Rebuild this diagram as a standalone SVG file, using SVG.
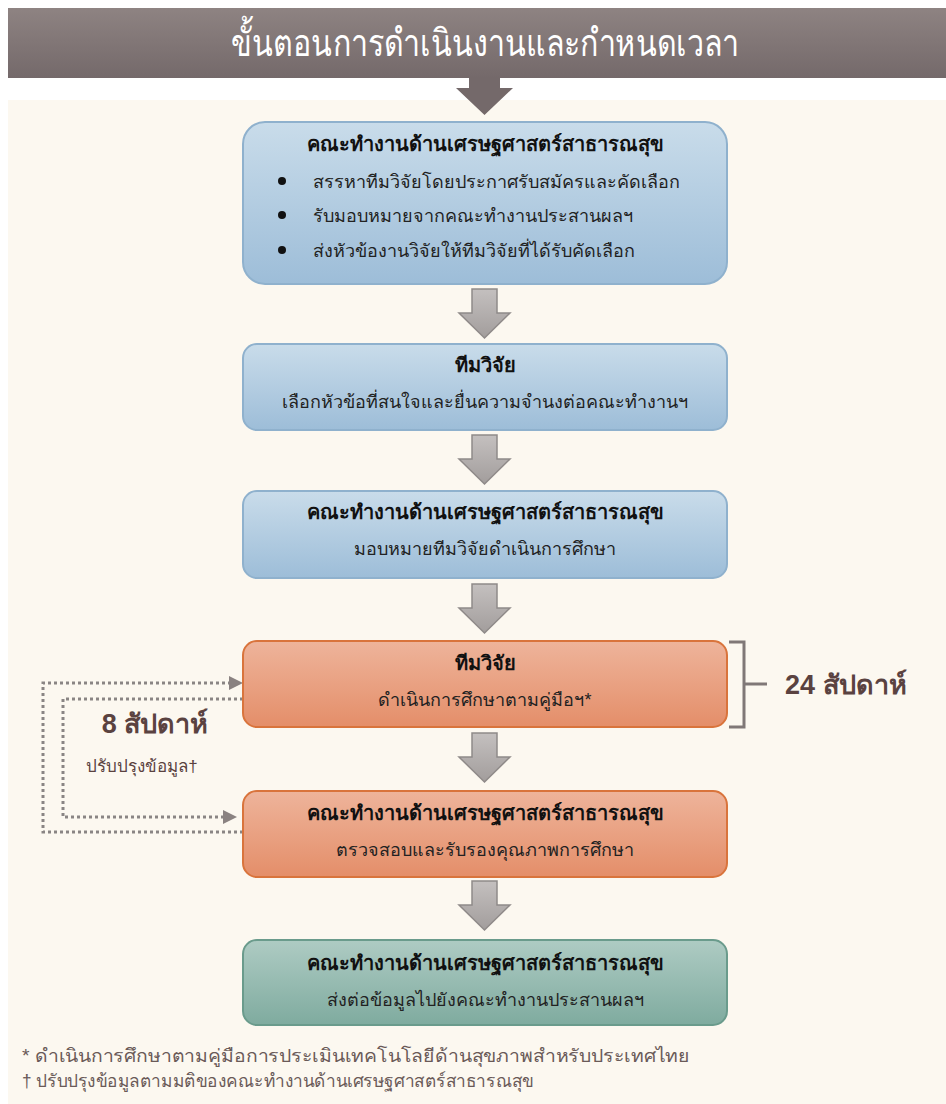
<svg xmlns="http://www.w3.org/2000/svg" width="946" height="1104" viewBox="0 0 946 1104">
<defs>
<linearGradient id="gHead" x1="0" y1="0" x2="0" y2="1"><stop offset="0" stop-color="#8e8382"/><stop offset="1" stop-color="#74696a"/></linearGradient>
<linearGradient id="gBlue" x1="0" y1="0" x2="0" y2="1"><stop offset="0" stop-color="#c9dcea"/><stop offset="1" stop-color="#9dbdd8"/></linearGradient>
<linearGradient id="gOrange" x1="0" y1="0" x2="0" y2="1"><stop offset="0" stop-color="#eeb49b"/><stop offset="1" stop-color="#e48e69"/></linearGradient>
<linearGradient id="gGreen" x1="0" y1="0" x2="0" y2="1"><stop offset="0" stop-color="#aecbc3"/><stop offset="1" stop-color="#7fab9f"/></linearGradient>
<linearGradient id="gArrow" x1="0" y1="0" x2="0" y2="1"><stop offset="0" stop-color="#c4c0bf"/><stop offset="1" stop-color="#a29d9c"/></linearGradient>
<style>
text{font-family:"Liberation Sans","DejaVu Sans",sans-serif;}
.t{font-size:20px;font-weight:bold;fill:#111;text-anchor:middle;}
.s{font-size:18px;fill:#222;text-anchor:middle;}
.b{font-size:18px;fill:#222;}
.blue{fill:url(#gBlue);stroke:#8fb1cd;stroke-width:2;}
.orange{fill:url(#gOrange);stroke:#d9743c;stroke-width:2;}
.green{fill:url(#gGreen);stroke:#6a9b8c;stroke-width:2;}
.arr{fill:url(#gArrow);stroke:#8f8a89;stroke-width:1.5;}
.dot{fill:none;stroke:#8a8584;stroke-width:3;stroke-dasharray:3 3;}
.wk{font-size:27px;font-weight:bold;fill:#5a4240;}
.note{font-size:18px;fill:#6a5a58;}
.head{fill:#8a8281;}
</style>
</defs>
<rect x="0" y="0" width="946" height="1104" fill="#ffffff"/>
<rect x="8" y="100" width="938" height="1004" fill="#fcf8f0"/>
<g id="header">
<rect x="8" y="8" width="938" height="70" fill="url(#gHead)"/>
<text transform="translate(485,56) scale(0.8,1)" x="0" y="0" font-size="38" fill="#ffffff" text-anchor="middle">ขั้นตอนการดำเนินงานและกำหนดเวลา</text>
<path d="M469,78 H500 V88 H513 L484.5,115 L456,88 H469 Z" fill="#74696a"/>
</g>
<g id="connectors">
<path class="arr" d="M472,289 H497 V313 H510 L484.5,338 L459,313 H472 Z"/>
<path class="arr" d="M472,435 H497 V459 H510 L484.5,484 L459,459 H472 Z"/>
<path class="arr" d="M472,584 H497 V608 H510 L484.5,633 L459,608 H472 Z"/>
<path class="arr" d="M472,733 H497 V757 H510 L484.5,782 L459,757 H472 Z"/>
<path class="arr" d="M472,881 H497 V905 H510 L484.5,930 L459,905 H472 Z"/>
<path class="dot" d="M243,832 H43 V683 H232"/>
<path class="head" d="M229,676 L243,683 L229,690 Z"/>
<path class="dot" d="M243,699 H63 V817 H226"/>
<path class="head" d="M223,810 L237,817 L223,824 Z"/>
<path d="M729,642 H744 V727 H729 M744,684 H767" fill="none" stroke="#807877" stroke-width="3"/>
</g>
<g id="node1">
<rect class="blue" x="243" y="122" width="484" height="162" rx="22"/>
<text class="t" x="485" y="151">คณะทำงานด้านเศรษฐศาสตร์สาธารณสุข</text>
<circle cx="282" cy="181" r="4" fill="#111"/>
<circle cx="282" cy="215" r="4" fill="#111"/>
<circle cx="282" cy="250" r="4" fill="#111"/>
<text class="b" x="313" y="188">สรรหาทีมวิจัยโดยประกาศรับสมัครและคัดเลือก</text>
<text class="b" x="313" y="222">รับมอบหมายจากคณะทำงานประสานผลฯ</text>
<text class="b" x="313" y="257">ส่งหัวข้องานวิจัยให้ทีมวิจัยที่ได้รับคัดเลือก</text>
</g>
<g id="node2">
<rect class="blue" x="243" y="344" width="484" height="86" rx="14"/>
<text class="t" x="485" y="372">ทีมวิจัย</text>
<text class="s" x="485" y="408">เลือกหัวข้อที่สนใจและยื่นความจำนงต่อคณะทำงานฯ</text>
</g>
<g id="node3">
<rect class="blue" x="243" y="491" width="484" height="87" rx="14"/>
<text class="t" x="485" y="519">คณะทำงานด้านเศรษฐศาสตร์สาธารณสุข</text>
<text class="s" x="485" y="555">มอบหมายทีมวิจัยดำเนินการศึกษา</text>
</g>
<g id="node4">
<rect class="orange" x="243" y="641" width="484" height="86" rx="14"/>
<text class="t" x="485" y="670">ทีมวิจัย</text>
<text class="s" x="485" y="706">ดำเนินการศึกษาตามคู่มือฯ*</text>
</g>
<g id="node5">
<rect class="orange" x="243" y="791" width="484" height="86" rx="14"/>
<text class="t" x="485" y="820">คณะทำงานด้านเศรษฐศาสตร์สาธารณสุข</text>
<text class="s" x="485" y="856">ตรวจสอบและรับรองคุณภาพการศึกษา</text>
</g>
<g id="node6">
<rect class="green" x="243" y="940" width="484" height="85" rx="14"/>
<text class="t" x="485" y="970">คณะทำงานด้านเศรษฐศาสตร์สาธารณสุข</text>
<text class="s" x="485" y="1006">ส่งต่อข้อมูลไปยังคณะทำงานประสานผลฯ</text>
</g>
<g id="labels">
<text class="wk" x="785" y="694">24 สัปดาห์</text>
<text class="wk" x="155" y="733" text-anchor="middle">8 สัปดาห์</text>
<text x="142" y="772" font-size="17" fill="#5a4240" text-anchor="middle">ปรับปรุงข้อมูล†</text>
<text class="note" x="22" y="1062" textLength="668" lengthAdjust="spacingAndGlyphs">* ดำเนินการศึกษาตามคู่มือการประเมินเทคโนโลยีด้านสุขภาพสำหรับประเทศไทย</text>
<text class="note" x="22" y="1087" textLength="512" lengthAdjust="spacingAndGlyphs">† ปรับปรุงข้อมูลตามมติของคณะทำงานด้านเศรษฐศาสตร์สาธารณสุข</text>
</g>
</svg>
